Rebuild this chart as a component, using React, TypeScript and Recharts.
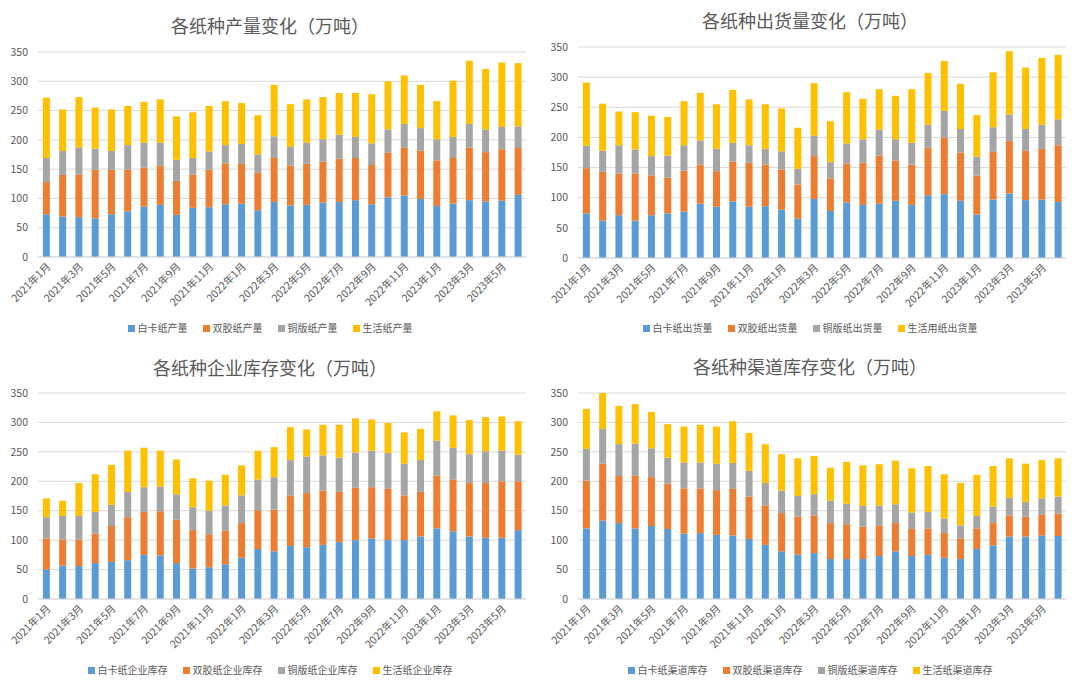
import { Bar, BarChart, CartesianGrid, XAxis, YAxis } from "recharts";

const months = Array.from({ length: 30 }, (_, i) => `${2021 + Math.floor(i / 12)}年${(i % 12) + 1}月`);
const yTicks = [0, 50, 100, 150, 200, 250, 300, 350];
const colors = ["#5B9BD5", "#ED7D31", "#A5A5A5", "#FFC000"];

// 产量
const cardOutput = [73, 69, 68, 66, 73, 78, 86, 89, 72, 84, 85, 90, 91, 80, 94, 88, 89, 93, 94, 97, 90, 102, 105, 99, 87, 91, 97, 95, 96, 106];
const offsetOutput = [55, 71, 73, 83, 76, 71, 67, 67, 58, 57, 64, 70, 68, 64, 75, 68, 70, 70, 74, 72, 67, 76, 82, 83, 78, 78, 90, 84, 88, 80];
const coatedOutput = [41, 41, 46, 36, 32, 42, 42, 39, 36, 28, 31, 31, 34, 31, 37, 32, 36, 38, 41, 36, 37, 40, 40, 38, 36, 36, 40, 39, 38, 37];
const tissueOutput = [103, 71, 86, 70, 71, 67, 70, 74, 74, 78, 78, 75, 70, 67, 88, 73, 74, 72, 71, 75, 84, 82, 83, 74, 65, 96, 108, 103, 110, 108];

// 出货量
const cardShip = [74, 62, 71, 62, 71, 74, 77, 90, 85, 94, 85, 86, 80, 65, 98, 78, 92, 88, 90, 95, 88, 104, 106, 95, 72, 97, 107, 96, 97, 93];
const offsetShip = [75, 81, 69, 78, 66, 59, 68, 65, 59, 66, 73, 69, 67, 57, 71, 54, 65, 70, 80, 67, 67, 79, 94, 80, 65, 79, 87, 82, 84, 94];
const coatedShip = [37, 35, 47, 40, 32, 37, 42, 40, 37, 31, 29, 26, 30, 26, 34, 27, 33, 39, 43, 35, 36, 38, 44, 39, 31, 41, 44, 36, 40, 43];
const tissueShip = [105, 78, 56, 62, 67, 64, 73, 79, 74, 88, 76, 74, 71, 68, 87, 68, 85, 67, 67, 72, 89, 86, 83, 75, 69, 91, 105, 102, 111, 107];

// 企业库存
const cardStock = [50, 57, 56, 61, 63, 66, 75, 74, 61, 52, 54, 59, 70, 85, 81, 90, 88, 92, 97, 100, 103, 100, 100, 106, 120, 115, 106, 104, 104, 117];
const offsetStock = [53, 44, 45, 50, 61, 73, 73, 75, 74, 65, 56, 57, 59, 66, 71, 86, 92, 92, 85, 89, 87, 87, 76, 76, 90, 88, 91, 93, 96, 83];
const coatedStock = [36, 40, 40, 37, 36, 43, 42, 42, 43, 39, 40, 43, 47, 52, 55, 60, 62, 60, 58, 60, 62, 61, 54, 54, 59, 54, 49, 54, 52, 45];
const tissueStock = [32, 26, 56, 64, 68, 70, 67, 61, 59, 49, 51, 52, 51, 49, 51, 56, 46, 52, 56, 58, 53, 51, 53, 53, 50, 55, 58, 58, 58, 57];

// 渠道库存
const cardChannel = [120, 133, 129, 120, 124, 119, 111, 112, 109, 108, 102, 92, 81, 75, 78, 68, 68, 68, 73, 81, 73, 75, 70, 68, 85, 91, 106, 106, 108, 107];
const offsetChannel = [81, 97, 80, 90, 83, 77, 77, 76, 76, 79, 72, 67, 65, 65, 64, 61, 59, 55, 52, 48, 46, 45, 42, 35, 35, 38, 36, 34, 35, 38];
const coatedChannel = [54, 59, 54, 54, 49, 44, 44, 44, 45, 44, 44, 38, 38, 35, 36, 38, 35, 35, 34, 32, 28, 28, 25, 22, 21, 28, 30, 25, 28, 29];
const tissueChannel = [68, 61, 65, 67, 62, 57, 61, 64, 63, 71, 64, 66, 62, 64, 65, 56, 71, 69, 70, 74, 75, 78, 75, 72, 70, 69, 67, 65, 65, 65];

type PanelProps = {
  title: string;
  names: string[];
  series: number[][];
  left: number;
  top: number;
  plotTop: number;
  plotBottom: number;
  titleY: number;
  legendY: number;
};

const AXIS_H = 63;

function Panel({ title, names, series, left, top, plotTop, plotBottom, titleY, legendY }: PanelProps) {
  const rows = months.map((m, i) => {
    const row: Record<string, string | number> = { month: m };
    names.forEach((n, k) => (row[n] = series[k][i]));
    return row;
  });
  const height = plotBottom + AXIS_H - top;
  return (
    <>
      <div style={{ position: "absolute", left, top: titleY - 12, width: 540, textAlign: "center", fontSize: 18, color: "#595959", lineHeight: "24px" }}>
        {title}
      </div>
      <div style={{ position: "absolute", left, top }}>
        <BarChart width={540} height={height} data={rows} margin={{ top: plotTop - top, right: 14, bottom: 0, left: 8 }} barCategoryGap="30%">
          <CartesianGrid vertical={false} stroke="#d9d9d9" />
          <XAxis
            dataKey="month"
            interval={1}
            angle={-45}
            textAnchor="end"
            height={AXIS_H}
            tickLine={false}
            tickSize={3}
            tickMargin={2}
            stroke="#d9d9d9"
            tick={{ fontSize: 10.5, fill: "#595959" }}
          />
          <YAxis
            width={30}
            domain={[0, 350]}
            ticks={yTicks}
            axisLine={false}
            tickLine={false}
            tickSize={4}
            tickMargin={6}
            tick={{ fontSize: 10.5, fill: "#595959" }}
          />
          {names.map((n, k) => (
            <Bar key={n} dataKey={n} stackId="s" fill={colors[k]} isAnimationActive={false} />
          ))}
        </BarChart>
      </div>
      <div style={{ position: "absolute", left, top: legendY - 8, width: 540, display: "flex", justifyContent: "center", gap: 15, fontSize: 10, color: "#595959", lineHeight: "16px" }}>
        {names.map((n, k) => (
          <span key={n} style={{ display: "flex", alignItems: "center" }}>
            <span style={{ width: 7, height: 7, background: colors[k], marginRight: 3 }} />
            {n}
          </span>
        ))}
      </div>
    </>
  );
}

export default function App() {
  return (
    <div style={{ position: "absolute", left: 0, top: 0, width: 1080, height: 687, background: "#fff", fontFamily: "'Noto Sans CJK SC', 'Noto Sans', sans-serif", overflow: "hidden" }}>
      <Panel
        title="各纸种产量变化（万吨）"
        names={["白卡纸产量", "双胶纸产量", "铜版纸产量", "生活纸产量"]}
        series={[cardOutput, offsetOutput, coatedOutput, tissueOutput]}
        left={0}
        top={0}
        plotTop={52}
        plotBottom={257}
        titleY={25}
        legendY={328}
      />
      <Panel
        title="各纸种出货量变化（万吨）"
        names={["白卡纸出货量", "双胶纸出货量", "铜版纸出货量", "生活用纸出货量"]}
        series={[cardShip, offsetShip, coatedShip, tissueShip]}
        left={540}
        top={0}
        plotTop={47}
        plotBottom={258}
        titleY={20}
        legendY={328}
      />
      <Panel
        title="各纸种企业库存变化（万吨）"
        names={["白卡纸企业库存", "双胶纸企业库存", "铜版纸企业库存", "生活纸企业库存"]}
        series={[cardStock, offsetStock, coatedStock, tissueStock]}
        left={0}
        top={343}
        plotTop={393}
        plotBottom={599}
        titleY={367}
        legendY={670}
      />
      <Panel
        title="各纸种渠道库存变化（万吨）"
        names={["白卡纸渠道库存", "双胶纸渠道库存", "铜版纸渠道库存", "生活纸渠道库存"]}
        series={[cardChannel, offsetChannel, coatedChannel, tissueChannel]}
        left={540}
        top={343}
        plotTop={393}
        plotBottom={599}
        titleY={366}
        legendY={670}
      />
    </div>
  );
}
